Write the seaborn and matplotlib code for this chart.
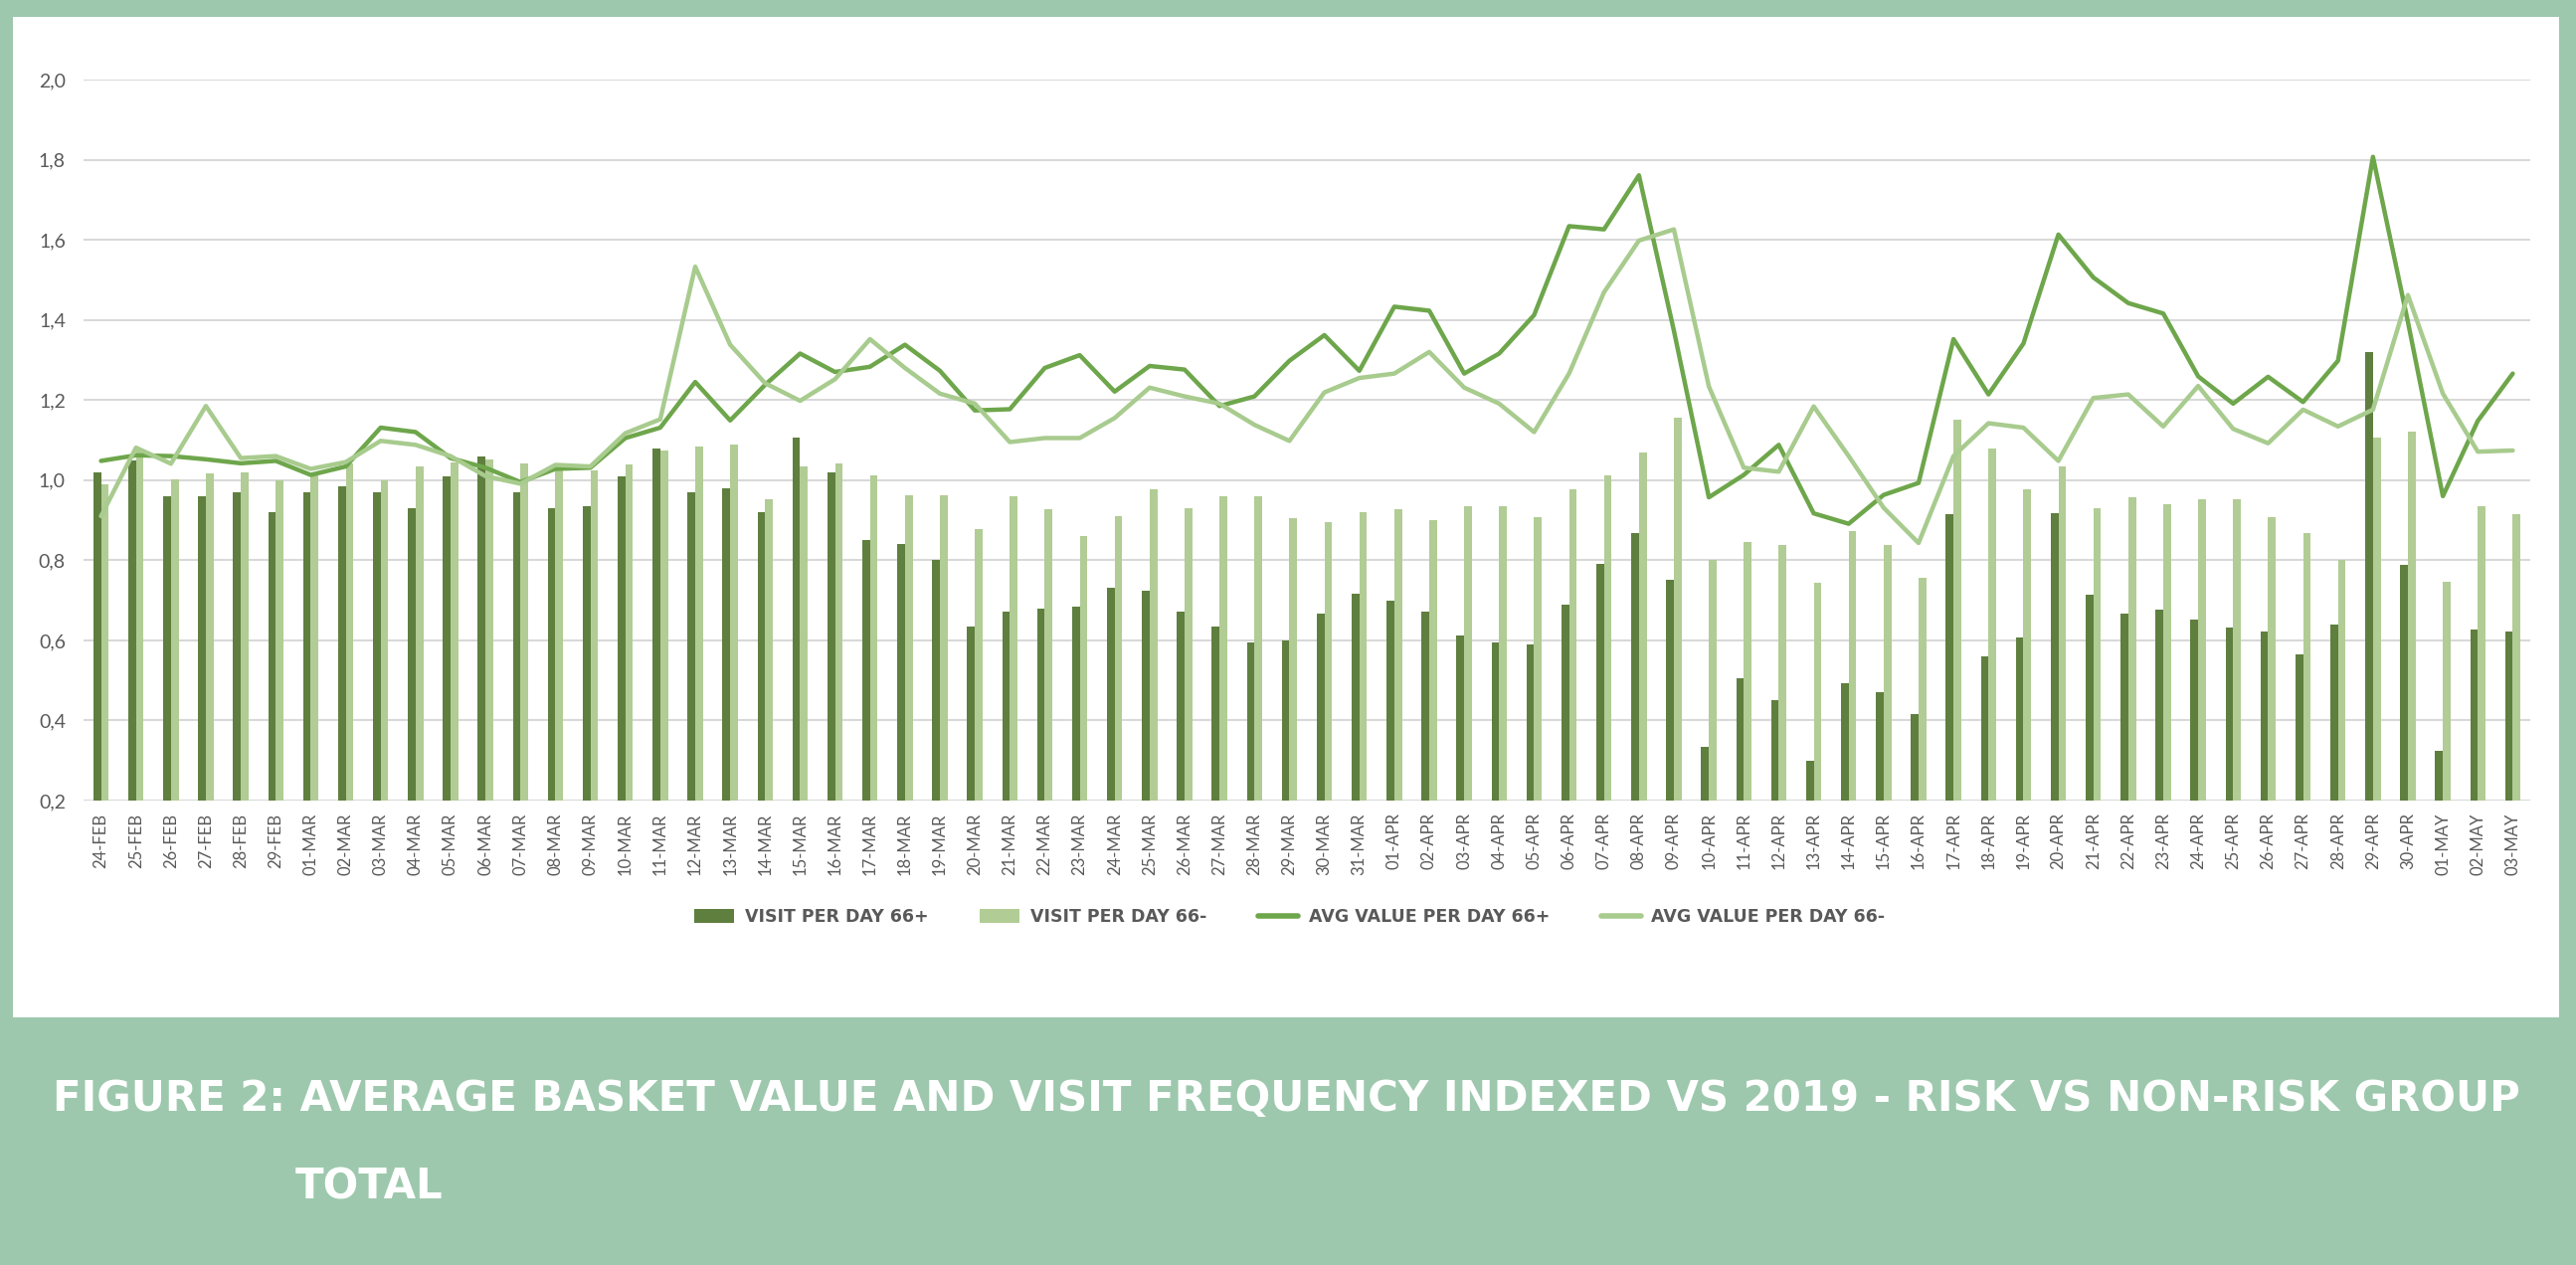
import numpy as np
import pandas as pd
import seaborn as sns
import matplotlib.pyplot as plt
from matplotlib import font_manager
from matplotlib.patches import Patch, Rectangle
from matplotlib.lines import Line2D

# Data
dates = [
    "24-FEB", "25-FEB", "26-FEB", "27-FEB", "28-FEB", "29-FEB",
    "01-MAR", "02-MAR", "03-MAR", "04-MAR", "05-MAR", "06-MAR", "07-MAR", "08-MAR",
    "09-MAR", "10-MAR", "11-MAR", "12-MAR", "13-MAR", "14-MAR", "15-MAR", "16-MAR",
    "17-MAR", "18-MAR", "19-MAR", "20-MAR", "21-MAR", "22-MAR", "23-MAR", "24-MAR",
    "25-MAR", "26-MAR", "27-MAR", "28-MAR", "29-MAR", "30-MAR", "31-MAR",
    "01-APR", "02-APR", "03-APR", "04-APR", "05-APR", "06-APR", "07-APR", "08-APR",
    "09-APR", "10-APR", "11-APR", "12-APR", "13-APR", "14-APR", "15-APR", "16-APR",
    "17-APR", "18-APR", "19-APR", "20-APR", "21-APR", "22-APR", "23-APR", "24-APR",
    "25-APR", "26-APR", "27-APR", "28-APR", "29-APR", "30-APR",
    "01-MAY", "02-MAY", "03-MAY",
]

visit_66_plus = [
    1.02, 1.05, 0.96, 0.96, 0.97, 0.92,
    0.97, 0.985, 0.97, 0.93, 1.01, 1.06, 0.97, 0.93, 0.935, 1.01, 1.08, 0.97, 0.98,
    0.92, 1.105, 1.02, 0.85, 0.84, 0.80, 0.635, 0.672, 0.678, 0.685, 0.732, 0.725,
    0.672, 0.635, 0.596, 0.60, 0.668, 0.717,
    0.70, 0.672, 0.613, 0.596, 0.59, 0.69, 0.79, 0.867, 0.75, 0.335, 0.506, 0.451,
    0.30, 0.492, 0.471, 0.415, 0.914, 0.559, 0.608, 0.918, 0.713, 0.666, 0.676,
    0.653, 0.632, 0.622, 0.564, 0.64, 1.32, 0.789,
    0.325, 0.626, 0.622,
]

visit_66_minus = [
    0.99, 1.08, 1.003, 1.017, 1.02, 1.0,
    1.017, 1.042, 1.0, 1.034, 1.045, 1.052, 1.042, 1.028, 1.024, 1.038, 1.074, 1.084,
    1.088, 0.953, 1.034, 1.042, 1.013, 0.963, 0.963, 0.877, 0.96, 0.927, 0.86, 0.91,
    0.977, 0.931, 0.96, 0.96, 0.906, 0.896, 0.921,
    0.927, 0.90, 0.936, 0.936, 0.908, 0.977, 1.013, 1.07, 1.155, 0.80, 0.846, 0.839,
    0.743, 0.874, 0.839, 0.757, 1.152, 1.08, 0.977, 1.034, 0.931, 0.958, 0.941,
    0.953, 0.953, 0.908, 0.867, 0.80, 1.105, 1.12,
    0.746, 0.936, 0.914,
]

avg_66_plus = [
    1.048, 1.062, 1.06, 1.052, 1.042, 1.048,
    1.013, 1.034, 1.131, 1.12, 1.055, 1.031, 0.995, 1.028, 1.031, 1.105, 1.131, 1.245,
    1.149, 1.238, 1.316, 1.27, 1.283, 1.338, 1.273, 1.174, 1.177, 1.28, 1.312, 1.221,
    1.285, 1.276, 1.185, 1.209, 1.298, 1.362, 1.273,
    1.433, 1.423, 1.266, 1.316, 1.412, 1.634, 1.626, 1.761, 1.373, 0.957, 1.013, 1.088,
    0.917, 0.891, 0.963, 0.993, 1.352, 1.214, 1.341, 1.613, 1.506, 1.442, 1.416,
    1.259, 1.191, 1.258, 1.195, 1.298, 1.807, 1.395,
    0.96, 1.148, 1.266,
]

avg_66_minus = [
    0.91, 1.081, 1.041, 1.185, 1.055, 1.06,
    1.028, 1.045, 1.098, 1.088, 1.06, 1.01, 0.991, 1.038, 1.034, 1.117, 1.152, 1.533,
    1.338, 1.242, 1.198, 1.252, 1.352, 1.28, 1.216, 1.191, 1.095, 1.105, 1.105, 1.155,
    1.231, 1.209, 1.191, 1.138, 1.098, 1.219, 1.255,
    1.266, 1.32, 1.231, 1.191, 1.12, 1.266, 1.469, 1.598, 1.626, 1.234, 1.031, 1.021,
    1.184, 1.06, 0.931, 0.843, 1.06, 1.142, 1.131, 1.048, 1.205, 1.214, 1.134,
    1.235, 1.128, 1.092, 1.176, 1.134, 1.176, 1.462,
    1.216, 1.071, 1.074,
]

y_ticks = [0.2, 0.4, 0.6, 0.8, 1.0, 1.2, 1.4, 1.6, 1.8, 2.0]
y_tick_labels = ["0,2", "0,4", "0,6", "0,8", "1,0", "1,2", "1,4", "1,6", "1,8", "2,0"]

bar_labels = ["VISIT PER DAY 66+", "VISIT PER DAY 66-"]
line_labels = ["AVG VALUE PER DAY 66+", "AVG VALUE PER DAY 66-"]
title_line1 = "FIGURE 2: AVERAGE BASKET VALUE AND VISIT FREQUENCY INDEXED VS 2019 - RISK VS NON-RISK GROUP"
title_line2 = "TOTAL"

# Colours
frame_green = "#9DC8AD"
dark_bar = "#5F7F3F"
light_bar = "#B1CC95"
dark_line = "#6EA64B"
light_line = "#A8CB8E"
grid_grey = "#D9D9D9"
text_grey = "#595959"

sns.set_style("white")
available = {f.name for f in font_manager.fontManager.ttflist}
narrow = "Liberation Sans Narrow" if "Liberation Sans Narrow" in available else "DejaVu Sans"
tick_font = "Lato" if "Lato" in available else "DejaVu Sans"
plt.rcParams["font.family"] = [tick_font, "DejaVu Sans"]

# Long-form table for the bars
bars = pd.DataFrame({
    "date": dates * 2,
    "value": visit_66_plus + visit_66_minus,
    "series": [bar_labels[0]] * len(dates) + [bar_labels[1]] * len(dates),
})
pos = np.arange(len(dates))

fig = plt.figure(figsize=(25.9, 12.72), dpi=100)
fig.patch.set_facecolor(frame_green)
# white panel behind the chart
fig.patches.append(Rectangle((13 / 2590, 1 - 1023 / 1272), (2573 - 13) / 2590, (1023 - 17) / 1272,
                             transform=fig.transFigure, facecolor="white", edgecolor="none",
                             zorder=-5))

ax = fig.add_axes([84 / 2590, 1 - 805 / 1272, (2544 - 84) / 2590, (805 - 80) / 1272])
ax.set_facecolor("none")
ax.set_zorder(1)

sns.barplot(data=bars, x="date", y="value", hue="series", order=dates,
            hue_order=bar_labels, palette=[dark_bar, light_bar],
            width=0.44, dodge=True, gap=0, saturation=1, legend=False,
            linewidth=0, edgecolor="none", ax=ax, zorder=2)
sns.lineplot(x=pos, y=avg_66_plus, color=dark_line, linewidth=3.2, ax=ax, zorder=3)
sns.lineplot(x=pos, y=avg_66_minus, color=light_line, linewidth=3.2, ax=ax, zorder=3)

ax.set_xlim(-0.5, len(dates) - 0.5)
ax.set_ylim(0.2, 2.0)
ax.set_yticks(y_ticks)
ax.set_yticklabels(y_tick_labels)
ax.set_xticks(pos)
ax.set_xticklabels(dates, rotation=90)
ax.tick_params(axis="y", length=0, pad=13, labelsize=14, labelcolor=text_grey)
ax.tick_params(axis="x", length=0, pad=9, labelsize=12, labelcolor=text_grey)
ax.set_xlabel("")
ax.set_ylabel("")
ax.grid(axis="y", color=grid_grey, linewidth=1.5, zorder=0)
ax.set_axisbelow(True)
for s in ["top", "right", "left", "bottom"]:
    ax.spines[s].set_visible(False)

# Legend
handles = [
    Patch(facecolor=dark_bar, edgecolor="none", label=bar_labels[0]),
    Patch(facecolor=light_bar, edgecolor="none", label=bar_labels[1]),
    Line2D([0], [0], color=dark_line, linewidth=4, label=line_labels[0]),
    Line2D([0], [0], color=light_line, linewidth=4, label=line_labels[1]),
]
leg = fig.legend(handles=handles, loc="center", bbox_to_anchor=(1297 / 2590, 1 - 922 / 1272),
                 ncol=4, frameon=False, handlelength=2.3, handleheight=0.8,
                 columnspacing=3.0, handletextpad=0.6,
                 prop={"family": [narrow, "DejaVu Sans"], "weight": "bold", "size": 12.5})
for t in leg.get_texts():
    t.set_color(text_grey)

# Caption in the green band, sized to span the same width as the reference
t1 = fig.text(53 / 2590, 1 - 1117 / 1272, title_line1, color="white", fontsize=40,
              fontweight="bold", family=[narrow, "DejaVu Sans"], ha="left", va="baseline")
fig.canvas.draw()
w = t1.get_window_extent().width
t1.set_fontsize(40 * (2528 - 53) / w)
fig.text(297 / 2590, 1 - 1206 / 1272, title_line2, color="white", fontsize=t1.get_fontsize(),
         fontweight="bold", family=[narrow, "DejaVu Sans"], ha="left", va="baseline")

fig.savefig("out.png", dpi=100, facecolor=fig.get_facecolor())
